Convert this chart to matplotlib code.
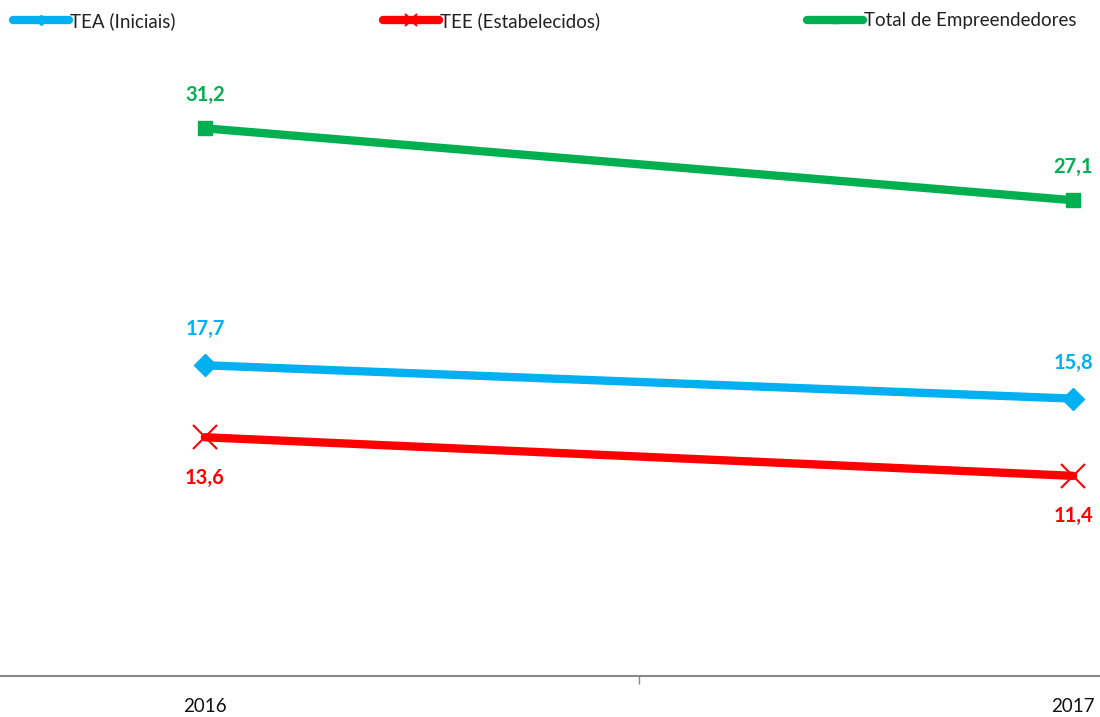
import matplotlib
matplotlib.use("Agg")
import matplotlib.pyplot as plt

plt.rcParams['font.family'] = ['Lato', 'DejaVu Sans']

anos = ["2016", "2017"]
tea = [17.7, 15.8]
tee = [13.6, 11.4]
total = [31.2, 27.1]

azul = "#00B0F0"
vermelho = "#FF0000"
verde = "#00B050"

fig = plt.figure(figsize=(11, 7.17), dpi=100)
ax = fig.add_axes([0, 0.0572, 1, 0.8814])

x = list(range(len(anos)))

l1, = ax.plot(x, tea, color=azul, lw=6, marker="D", ms=11, solid_capstyle="round", label="TEA (Iniciais)")
l2, = ax.plot(x, tee, color=vermelho, lw=6, marker="x", ms=17, mew=1.5, solid_capstyle="round", label="TEE (Estabelecidos)")
l3, = ax.plot(x, total, color=verde, lw=6, marker="s", ms=10, solid_capstyle="round", label="Total de Empreendedores")

# rótulos dos valores
for i in x:
    ax.annotate(f"{total[i]:.1f}".replace(".", ","), (i, total[i]), xytext=(0, 24), textcoords="offset points",
                ha="center", va="center", color=verde, fontsize=14.5, fontweight="bold")
    ax.annotate(f"{tea[i]:.1f}".replace(".", ","), (i, tea[i]), xytext=(0, 26), textcoords="offset points",
                ha="center", va="center", color=azul, fontsize=14.5, fontweight="bold")
    ax.annotate(f"{tee[i]:.1f}".replace(".", ","), (i, tee[i]), xytext=(0, -29), textcoords="offset points",
                ha="center", va="center", color=vermelho, fontsize=14.5, fontweight="bold")

ax.set_xlim(-0.236, 1.031)
ax.set_ylim(0, 36)

for s in ["top", "right", "left"]:
    ax.spines[s].set_visible(False)
ax.spines["bottom"].set_color("#888888")
ax.spines["bottom"].set_linewidth(1.5)
ax.set_yticks([])
ax.set_xticks(x)
ax.set_xticklabels(anos, fontsize=13.5, color="#111111")
ax.tick_params(axis="x", which="major", length=0, pad=16)
ax.set_xticks([0.5], minor=True)
ax.tick_params(axis="x", which="minor", length=6, color="#888888", width=1)

# legenda: três entradas posicionadas separadamente
for h, xpos in zip([l1, l2, l3], [0.005, 0.341, 0.727]):
    fig.legend(handles=[h], loc="center left", bbox_to_anchor=(xpos, 0.971), frameon=False,
               fontsize=13.5, handlelength=3.0, handletextpad=0.05, markerscale=0.5,
               labelcolor="#222222", borderaxespad=0, borderpad=0.4)

fig.savefig("out.png", dpi=100)
